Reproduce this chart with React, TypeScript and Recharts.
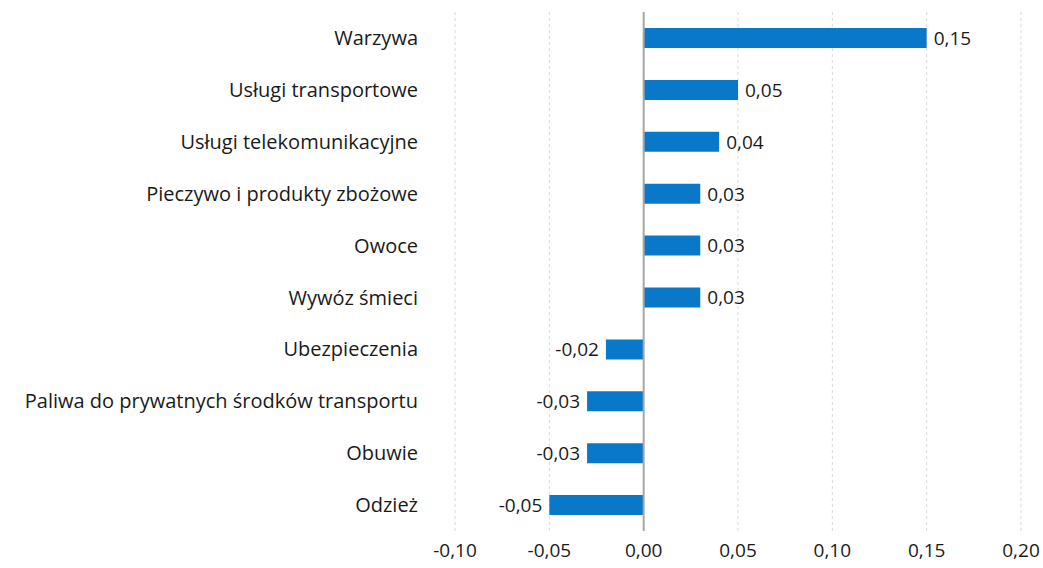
import React from "react";
import {
  BarChart,
  Bar,
  XAxis,
  YAxis,
  CartesianGrid,
  ReferenceLine,
  LabelList,
} from "recharts";

const categories = [
  "Warzywa",
  "Usługi transportowe",
  "Usługi telekomunikacyjne",
  "Pieczywo i produkty zbożowe",
  "Owoce",
  "Wywóz śmieci",
  "Ubezpieczenia",
  "Paliwa do prywatnych środków transportu",
  "Obuwie",
  "Odzież",
];
const values = [0.15, 0.05, 0.04, 0.03, 0.03, 0.03, -0.02, -0.03, -0.03, -0.05];
const xTicks = [-0.1, -0.05, 0, 0.05, 0.1, 0.15, 0.2];

const fmt = (v: number) => v.toFixed(2).replace(".", ",");

const FONT = "'Open Sans', sans-serif";

const BarLabel = (props: any) => {
  const { x, y, width, height, value } = props;
  const left = Math.min(x, x + width);
  const right = Math.max(x, x + width);
  const cy = y + height / 2;
  const neg = value < 0;
  return (
    <text
      x={neg ? left - 7 : right + 7}
      y={cy}
      dy="0.36em"
      textAnchor={neg ? "end" : "start"}
      fontSize={19}
      fill="#1a1a1a"
      fontFamily={FONT}
    >
      {fmt(value)}
    </text>
  );
};

export default function App() {
  const data = categories.map((name, i) => ({ name, value: values[i] }));

  return (
    <div style={{ position: "fixed", left: 0, top: 0, background: "#fff" }}>
      <BarChart
        width={1043}
        height={568}
        data={data}
        layout="vertical"
        margin={{ top: 12, right: 22, left: 0, bottom: 7 }}
        style={{ fontFamily: FONT }}
      >
        <CartesianGrid
          horizontal={false}
          stroke="#d9d9d9"
          strokeDasharray="3 3"
        />
        <XAxis
          type="number"
          domain={[-0.1, 0.2]}
          ticks={xTicks}
          tickFormatter={fmt}
          axisLine={false}
          tickLine={false}
          tickSize={0}
          tickMargin={13}
          height={30}
          tick={{ fontSize: 19, fill: "#1a1a1a" }}
          interval={0}
        />
        <YAxis
          type="category"
          dataKey="name"
          width={455}
          axisLine={false}
          tickLine={false}
          tickSize={0}
          tickMargin={37}
          tick={{ fontSize: 20, fill: "#1a1a1a" }}
          interval={0}
        />
        <ReferenceLine x={0} stroke="#a6a6a6" strokeWidth={2} />
        <Bar dataKey="value" fill="#0a78c8" barSize={20} isAnimationActive={false}>
          <LabelList dataKey="value" content={BarLabel} />
        </Bar>
      </BarChart>
    </div>
  );
}
